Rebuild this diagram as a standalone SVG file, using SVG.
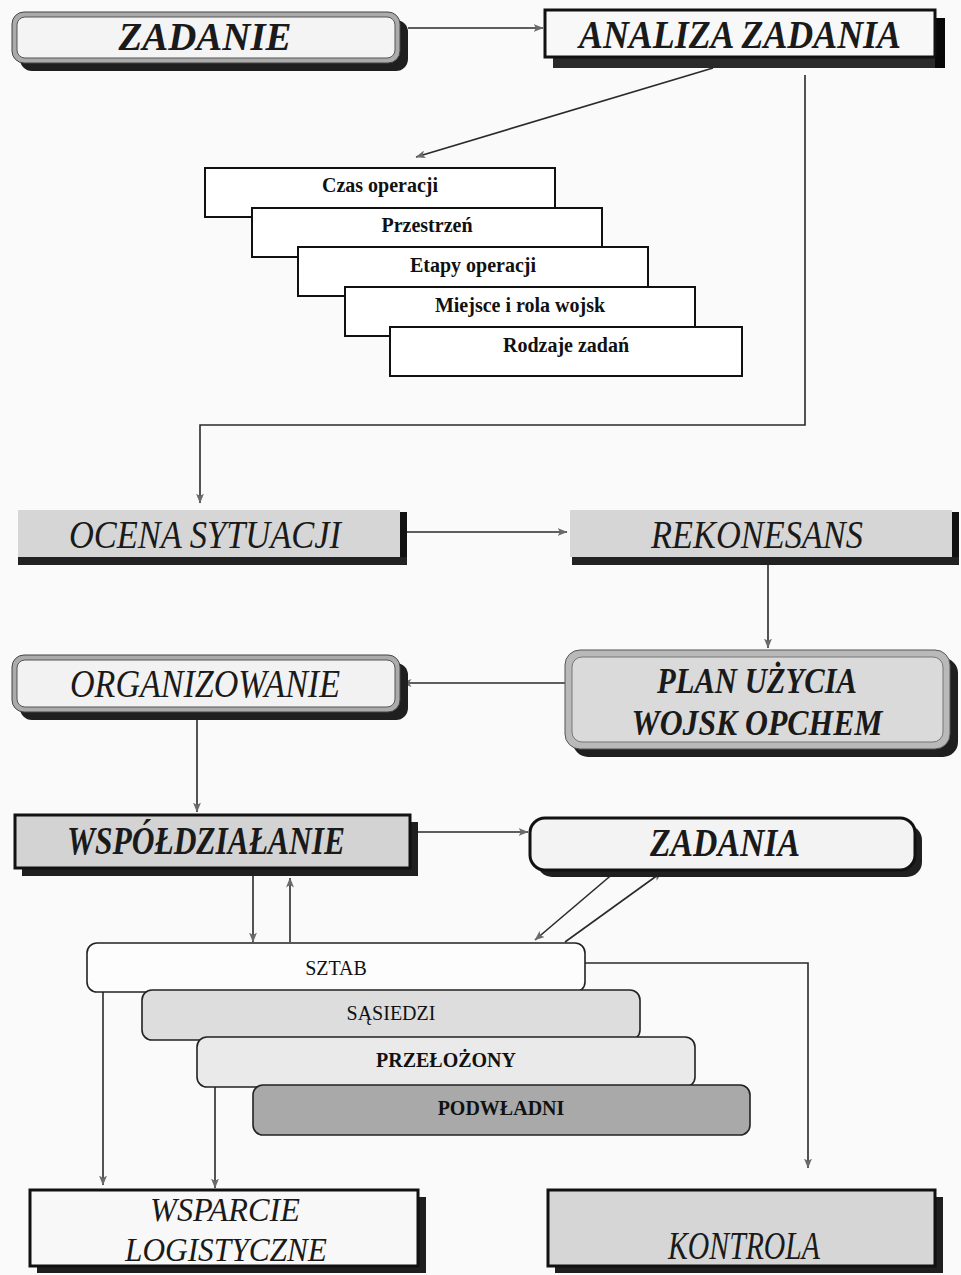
<svg xmlns="http://www.w3.org/2000/svg" width="961" height="1275" viewBox="0 0 961 1275">
  <defs>
    <style>
      .lbl{font-family:"Liberation Serif","Times New Roman",serif;font-style:italic;fill:#1a1a1a;text-anchor:middle}
      .bd{font-weight:bold}
      .st{font-family:"Liberation Serif","Times New Roman",serif;font-size:20px;fill:#111;text-anchor:middle}
      .ln{stroke:#2a2a2a;stroke-width:1.6;fill:none}
      .arr{marker-end:url(#ah)}
      .shadow{fill:#1f1f1f}
      .step{fill:#fff;stroke:#111;stroke-width:2}
      .pill{stroke:#222;stroke-width:1.6}
    </style>
    <marker id="ah" viewBox="0 0 10 8" refX="9.5" refY="4" markerWidth="10" markerHeight="8" markerUnits="userSpaceOnUse" orient="auto">
      <path d="M0,0 L10,4 L0,8 L2.5,4 z" fill="#6a6a6a"/>
    </marker>
  </defs>

  <rect x="0" y="0" width="961" height="1275" fill="#fafafa"/>

  <!-- connectors -->
  <g id="connectors">
    <path class="ln arr" d="M408,28 H543"/>
    <path class="ln arr" d="M713,68 L416,157"/>
    <path class="ln arr" d="M805,75 V425 H200 V503"/>
    <path class="ln arr" d="M407,532 H567"/>
    <path class="ln arr" d="M768,565 V648"/>
    <path class="ln arr" d="M565,683 H402"/>
    <path class="ln arr" d="M197,720 V812"/>
    <path class="ln arr" d="M418,832 H528"/>
    <path class="ln arr" d="M253,876 V942"/>
    <path class="ln arr" d="M290,942 V878"/>
    <path class="ln arr" d="M615,872 L535,940"/>
    <path class="ln arr" d="M565,942 L662,872"/>
    <path class="ln arr" d="M585,963 H808 V1168"/>
    <path class="ln arr" d="M103,992 V1185"/>
    <path class="ln arr" d="M215,1087 V1188"/>
  </g>

  <!-- ZADANIE -->
  <g id="zadanie">
    <rect class="shadow" x="20" y="20" width="388" height="51" rx="12"/>
    <rect x="12" y="12" width="388" height="51" rx="12" fill="#ababab" stroke="#444" stroke-width="1"/>
    <rect x="17" y="17" width="378" height="41" rx="8" fill="#f4f4f4" stroke="#555" stroke-width="1"/>
    <text class="lbl bd" x="205" y="50" font-size="40" textLength="173" lengthAdjust="spacingAndGlyphs">ZADANIE</text>
  </g>

  <!-- ANALIZA ZADANIA -->
  <g id="analiza">
    <rect x="553" y="18" width="392" height="50" fill="#2a2a2a"/>
    <rect x="935" y="18" width="10" height="50" fill="#080808"/>
    <rect x="545" y="10" width="390" height="47" fill="#f8f8f8" stroke="#111" stroke-width="3"/>
    <text class="lbl bd" x="740" y="48" font-size="40" textLength="322" lengthAdjust="spacingAndGlyphs">ANALIZA ZADANIA</text>
  </g>

  <!-- elementy analizy -->
  <g id="czas">
    <rect class="step" x="205" y="168" width="350" height="49"/>
    <text class="st bd" x="380" y="192">Czas operacji</text>
  </g>
  <g id="przestrzen">
    <rect class="step" x="252" y="208" width="350" height="49"/>
    <text class="st bd" x="427" y="232">Przestrzeń</text>
  </g>
  <g id="etapy">
    <rect class="step" x="298" y="247" width="350" height="49"/>
    <text class="st bd" x="473" y="272">Etapy operacji</text>
  </g>
  <g id="miejsce">
    <rect class="step" x="345" y="287" width="350" height="49"/>
    <text class="st bd" x="520" y="312">Miejsce i rola wojsk</text>
  </g>
  <g id="rodzaje">
    <rect class="step" x="390" y="327" width="352" height="49"/>
    <text class="st bd" x="566" y="352">Rodzaje zadań</text>
  </g>

  <!-- OCENA SYTUACJI -->
  <g id="ocena">
    <rect x="18" y="510" width="382" height="47" fill="#d6d6d6"/>
    <rect x="400" y="512" width="7" height="53" fill="#111"/>
    <rect x="18" y="557" width="389" height="8" fill="#222"/>
    <text class="lbl" x="205" y="548" font-size="40" textLength="272" lengthAdjust="spacingAndGlyphs">OCENA SYTUACJI</text>
  </g>

  <!-- REKONESANS -->
  <g id="rekonesans">
    <rect x="570" y="510" width="382" height="47" fill="#d6d6d6"/>
    <rect x="952" y="512" width="7" height="53" fill="#111"/>
    <rect x="572" y="557" width="387" height="8" fill="#222"/>
    <text class="lbl" x="757" y="548" font-size="40" textLength="212" lengthAdjust="spacingAndGlyphs">REKONESANS</text>
  </g>

  <!-- ORGANIZOWANIE -->
  <g id="organizowanie">
    <rect class="shadow" x="20" y="663" width="388" height="57" rx="12"/>
    <rect x="12" y="655" width="388" height="57" rx="12" fill="#ababab" stroke="#444" stroke-width="1"/>
    <rect x="17" y="660" width="378" height="47" rx="8" fill="#f2f2f2" stroke="#555" stroke-width="1"/>
    <text class="lbl" x="205" y="697" font-size="40" textLength="270" lengthAdjust="spacingAndGlyphs">ORGANIZOWANIE</text>
  </g>

  <!-- PLAN UŻYCIA WOJSK OPCHEM -->
  <g id="plan">
    <rect class="shadow" x="573" y="658" width="385" height="99" rx="15"/>
    <rect x="565" y="650" width="385" height="99" rx="15" fill="#b9b9b9" stroke="#555" stroke-width="1"/>
    <rect x="572" y="657" width="371" height="85" rx="10" fill="#dadada" stroke="#777" stroke-width="1"/>
    <text class="lbl bd" x="757" y="693" font-size="36" textLength="200" lengthAdjust="spacingAndGlyphs">PLAN UŻYCIA</text>
    <text class="lbl bd" x="757" y="735" font-size="36" textLength="251" lengthAdjust="spacingAndGlyphs">WOJSK OPCHEM</text>
  </g>

  <!-- WSPÓŁDZIAŁANIE -->
  <g id="wspoldzialanie">
    <rect class="shadow" x="22" y="822" width="396" height="54"/>
    <rect x="15" y="815" width="395" height="53" fill="#d3d3d3" stroke="#111" stroke-width="3"/>
    <text class="lbl bd" x="206" y="854" font-size="40" textLength="278" lengthAdjust="spacingAndGlyphs">WSPÓŁDZIAŁANIE</text>
  </g>

  <!-- ZADANIA -->
  <g id="zadania">
    <rect class="shadow" x="537" y="825" width="385" height="52" rx="15"/>
    <rect x="530" y="818" width="385" height="52" rx="15" fill="#f3f3f3" stroke="#111" stroke-width="3"/>
    <text class="lbl bd" x="725" y="856" font-size="40" textLength="150" lengthAdjust="spacingAndGlyphs">ZADANIA</text>
  </g>

  <!-- SZTAB / SĄSIEDZI / PRZEŁOŻONY / PODWŁADNI -->
  <g id="sztab">
    <rect class="pill" x="87" y="943" width="498" height="49" rx="10" fill="#fdfdfd"/>
    <text class="st" x="336" y="975">SZTAB</text>
  </g>
  <g id="sasiedzi">
    <rect class="pill" x="142" y="990" width="498" height="50" rx="10" fill="#dddddd"/>
    <text class="st" x="391" y="1020">SĄSIEDZI</text>
  </g>
  <g id="przelozony">
    <rect class="pill" x="197" y="1037" width="498" height="50" rx="10" fill="#eaeaea"/>
    <text class="st bd" x="446" y="1067">PRZEŁOŻONY</text>
  </g>
  <g id="podwladni">
    <rect class="pill" x="253" y="1085" width="497" height="50" rx="10" fill="#a9a9a9"/>
    <text class="st bd" x="501" y="1115">PODWŁADNI</text>
  </g>

  <!-- WSPARCIE LOGISTYCZNE -->
  <g id="wsparcie">
    <rect class="shadow" x="37" y="1197" width="389" height="76"/>
    <rect x="30" y="1190" width="388" height="76" fill="#f8f8f8" stroke="#111" stroke-width="3"/>
    <text class="lbl" x="225" y="1221" font-size="33" textLength="150" lengthAdjust="spacingAndGlyphs">WSPARCIE</text>
    <text class="lbl" x="226" y="1261" font-size="33" textLength="202" lengthAdjust="spacingAndGlyphs">LOGISTYCZNE</text>
  </g>

  <!-- KONTROLA -->
  <g id="kontrola">
    <rect class="shadow" x="555" y="1197" width="388" height="76"/>
    <rect x="548" y="1190" width="387" height="76" fill="#d6d6d6" stroke="#111" stroke-width="3"/>
    <text class="lbl" x="744" y="1259" font-size="40" textLength="152" lengthAdjust="spacingAndGlyphs">KONTROLA</text>
  </g>
</svg>
